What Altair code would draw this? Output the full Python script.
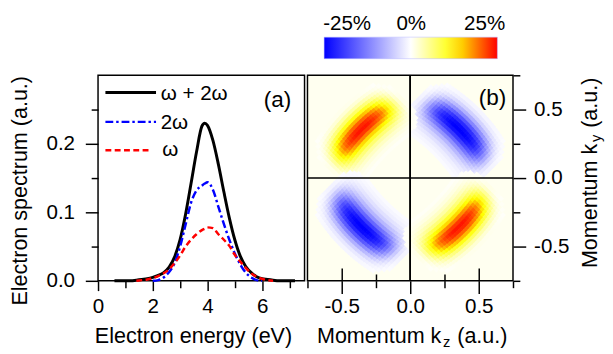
import math
import altair as alt
import pandas as pd

FONT = "Liberation Sans"

# ---------------- Panel (a): electron spectra ----------------
energy_ev = [0.6, 0.8, 1.0, 1.2, 1.4, 1.6, 1.8, 2.0, 2.2, 2.4,
             2.6, 2.8, 3.0, 3.2, 3.4, 3.6, 3.8, 3.9, 4.0,
             4.2, 4.4, 4.6, 4.8, 5.0, 5.2, 5.4, 5.6, 5.8, 6.0,
             6.2, 6.4, 6.6, 6.8, 7.0, 7.2]
spec_w_2w = [0.000, 0.000, 0.000, 0.000, 0.001, 0.002, 0.003, 0.005, 0.008, 0.012,
             0.020, 0.035, 0.060, 0.097, 0.142, 0.188, 0.226, 0.230, 0.227,
             0.205, 0.170, 0.130, 0.092, 0.060, 0.036, 0.021, 0.012, 0.006, 0.003,
             0.002, 0.001, 0.000, 0.000, 0.000, 0.000]
spec_2w = [None, None, None, None, None, None, None, 0.000, 0.001, 0.005,
           0.013, 0.026, 0.050, 0.082, 0.114, 0.132, 0.139, 0.142, 0.144,
           0.133, 0.108, 0.083, 0.060, 0.040, 0.024, 0.012, 0.005, 0.001, 0.000,
           None, None, None, None, None, None]
spec_w = [None, None, None, None, 0.000, 0.001, 0.002, 0.004, 0.007, 0.011,
          0.017, 0.026, 0.037, 0.050, 0.060, 0.068, 0.074, 0.076, 0.078,
          0.077, 0.068, 0.060, 0.051, 0.038, 0.028, 0.019, 0.011, 0.006, 0.003,
          0.001, 0.000, None, None, None, None]

series_names = ["\u03c9 + 2\u03c9", "2\u03c9", "\u03c9"]

# legend swatches (data coordinates of panel a)
legend_y = [0.275, 0.232, 0.1905]
legend_x1 = [0.27, 0.27, 0.27]
legend_x2 = [2.12, 2.12, 1.87]
legend_text_x = [2.29, 2.29, 2.35]
legend_text_y = [0.2634, 0.2214, 0.1824]

# ---------------- Panel (b): momentum map (four lobes) ----------------
# lobe geometry (a.u.): distance of lobe centre from origin, and bend of the lobe axis
lobe_dist = 0.49
lobe_bend = -0.4
# profile along the lobe (|u| cell centres, a.u.) and relative weight
along_abs_u = [0.0125, 0.0375, 0.0625, 0.0875, 0.1125, 0.1375, 0.1625, 0.1875, 0.2125,
               0.2375, 0.2625, 0.2875, 0.3125, 0.3375, 0.3625, 0.3875]
along_weight = [1.00, 1.00, 0.99, 0.97, 0.94, 0.90, 0.85, 0.78, 0.69,
                0.58, 0.46, 0.33, 0.21, 0.11, 0.05, 0.01]
# profile across the lobe (w cell centres, negative = towards origin) and relative weight
across_w = [-0.2375, -0.2125, -0.1875, -0.1625, -0.1375, -0.1125, -0.0875, -0.0625, -0.0375, -0.0125,
            0.0125, 0.0375, 0.0625, 0.0875, 0.1125, 0.1375, 0.1625, 0.1875, 0.2125, 0.2375]
across_weight = [0.02, 0.04, 0.07, 0.12, 0.19, 0.29, 0.43, 0.60, 0.78, 0.93,
                 1.00, 0.96, 0.84, 0.67, 0.48, 0.31, 0.18, 0.09, 0.04, 0.01]
CELL = 0.025
# quadrant diagonal angle (deg) and peak asymmetry (%)
quadrant_angle = [45, 135, 225, 315]
quadrant_peak = [-25, 24, -25, 24]

rows = []
for ang, peak in zip(quadrant_angle, quadrant_peak):
    er = (math.cos(math.radians(ang)), math.sin(math.radians(ang)))
    et = (-er[1], er[0])
    for side in (-1, 1):
        for au, uw in zip(along_abs_u, along_weight):
            u = side * au
            for w, ww in zip(across_w, across_weight):
                v = peak * uw * ww
                if abs(v) < 0.3:
                    continue
                rad = lobe_dist + w + lobe_bend * u * u
                rows.append({"kz": rad * er[0] + u * et[0], "ky": rad * er[1] + u * et[1], "v": v})
heat_df = pd.DataFrame(rows)

color_domain = [-25, 0, 12.5, 25]
color_range = ["#0000ff", "#ffffff", "#ffff00", "#ff0000"]

PA_W, PA_H = 211, 210
PB = 210
cell_px = CELL * PB / 1.5 * 1.2

# ---------------- helpers ----------------
def ax(**kw):
    base = dict(grid=False, domain=False, tickColor="black", tickWidth=1.5,
                labelColor="black", labelFont=FONT, labelFontSize=21, labelFlush=False)
    base.update(kw)
    return alt.Axis(**base)

neg_fmt = "datum.value < 0 ? '-' + format(-datum.value, '.1f') : format(datum.value, '.1f')"

def pix_text(px, py, s, size, align="left", baseline="alphabetic", angle=0):
    mk = dict(align=align, baseline=baseline, fontSize=size, color="black", font=FONT)
    if angle:
        mk["angle"] = angle
    return alt.Chart(pd.DataFrame({"s": [s]})).mark_text(**mk).encode(
        x=alt.value(px), y=alt.value(py), text="s:N")

# ---------------- Panel (a) ----------------
e_scale = alt.Scale(domain=[0, 7.55], nice=False, zero=False)
v_scale = alt.Scale(domain=[0, 0.3], nice=False, zero=False)

def series_df(vals):
    return pd.DataFrame([{"E": e, "v": v} for e, v in zip(energy_ev, vals) if v is not None])

ax_a_x = ax(orient="bottom", values=[0, 2, 4, 6], tickSize=10, labelPadding=5,
            title="Electron energy (eV)", titleFont=FONT, titleFontSize=22, titleFontWeight="normal",
            titleColor="black", titleX=97, titleY=63, titleAlign="center", titleBaseline="alphabetic")
ax_a_x_minor = ax(orient="bottom", values=[1, 3, 5, 7], tickSize=7, labels=False, title=None)
ax_a_y = ax(orient="left", values=[0, 0.1, 0.2], format=".1f", tickSize=13, labelPadding=11,
            title="Electron spectrum (a.u.)", titleFont=FONT, titleFontSize=22, titleFontWeight="normal",
            titleColor="black", titleX=-73, titleY=117.5, titleAngle=270, titleAlign="center",
            titleBaseline="alphabetic")
ax_a_y_minor = ax(orient="left", values=[0.05, 0.15, 0.25], tickSize=7, labels=False, title=None)

line_total = alt.Chart(series_df(spec_w_2w)).mark_line(
    color="black", strokeWidth=3, interpolate="monotone").encode(
    x=alt.X("E:Q", scale=e_scale, axis=ax_a_x),
    y=alt.Y("v:Q", scale=v_scale, axis=ax_a_y))
line_2w = alt.Chart(series_df(spec_2w)).mark_line(
    color="#0000ff", strokeWidth=2.5, strokeDash=[8, 3, 2.5, 3], interpolate="monotone").encode(
    x=alt.X("E:Q", scale=e_scale, axis=ax_a_x_minor),
    y=alt.Y("v:Q", scale=v_scale, axis=ax_a_y_minor))
line_w = alt.Chart(series_df(spec_w)).mark_line(
    color="#ff0000", strokeWidth=2.5, strokeDash=[6, 3.5], interpolate="monotone").encode(
    x=alt.X("E:Q", scale=e_scale, axis=None),
    y=alt.Y("v:Q", scale=v_scale, axis=None))

styles = [dict(color="black", strokeWidth=3),
          dict(color="#0000ff", strokeWidth=2.5, strokeDash=[8, 3, 2.5, 3]),
          dict(color="#ff0000", strokeWidth=2.5, strokeDash=[6, 3.5])]
legend_layers = []
for i in range(3):
    d = pd.DataFrame({"x1": [legend_x1[i]], "x2": [legend_x2[i]], "y": [legend_y[i]],
                      "tx": [legend_text_x[i]], "ty": [legend_text_y[i]], "s": [series_names[i]]})
    legend_layers.append(alt.Chart(d).mark_rule(**styles[i]).encode(
        x=alt.X("x1:Q", scale=e_scale, axis=None), x2="x2:Q",
        y=alt.Y("y:Q", scale=v_scale, axis=None)))
    legend_layers.append(alt.Chart(d).mark_text(
        align="left", baseline="alphabetic", fontSize=21, font=FONT, color="black").encode(
        x=alt.X("tx:Q", scale=e_scale, axis=None),
        y=alt.Y("ty:Q", scale=v_scale, axis=None), text="s:N"))

tag_a = alt.Chart(pd.DataFrame({"x": [6.56], "y": [0.254], "s": ["(a)"]})).mark_text(
    align="center", baseline="alphabetic", fontSize=23, font=FONT, color="black").encode(
    x=alt.X("x:Q", scale=e_scale, axis=None), y=alt.Y("y:Q", scale=v_scale, axis=None), text="s:N")

panel_a = alt.layer(line_total, line_2w, line_w, *legend_layers, tag_a).resolve_axis(
    x="independent", y="independent").properties(width=PA_W, height=PA_H)

# ---------------- Panel (b) ----------------
kz_scale = alt.Scale(domain=[-0.75, 0.75], nice=False, zero=False)
ky_scale = alt.Scale(domain=[-0.75, 0.75], nice=False, zero=False)

ax_b_x = ax(orient="bottom", values=[-0.5, 0, 0.5], labelExpr=neg_fmt, tickSize=13, labelPadding=2, title=None)
ax_b_x_minor = ax(orient="bottom", values=[-0.75, -0.25, 0.25, 0.75], tickSize=7, labels=False, title=None)
ax_b_x_in_major = ax(orient="bottom", values=[-0.5, 0.5], tickSize=13, offset=-13, labels=False, title=None)
ax_b_x_in_minor = ax(orient="bottom", values=[-0.25, 0.25], tickSize=7, offset=-7, labels=False, title=None)
ax_b_y = ax(orient="right", values=[-0.5, 0, 0.5], labelExpr=neg_fmt, tickSize=13, labelPadding=8, title=None)
ax_b_y_minor = ax(orient="right", values=[-0.75, -0.25, 0.25, 0.75], tickSize=7, labels=False, title=None)

heat = alt.Chart(heat_df).mark_square(size=cell_px ** 2, angle=45, opacity=1, strokeWidth=0).encode(
    x=alt.X("kz:Q", scale=kz_scale, axis=None),
    y=alt.Y("ky:Q", scale=ky_scale, axis=None),
    color=alt.Color("v:Q", scale=alt.Scale(domain=color_domain, range=color_range, interpolate="rgb"),
                    legend=alt.Legend(type="gradient", orient="none", legendX=PA_W + 20, legendY=-39,
                                      direction="horizontal",
                                      gradientLength=177, gradientThickness=22, title=None,
                                      labelExpr="''", padding=0, gradientStrokeColor="#b8b8ff",
                                      gradientStrokeWidth=0.5)))

zero_df = pd.DataFrame({"k": [0.0]})
vline = alt.Chart(zero_df).mark_rule(color="black", strokeWidth=1.5).encode(
    x=alt.X("k:Q", scale=kz_scale, axis=ax_b_x))
hline = alt.Chart(zero_df).mark_rule(color="black", strokeWidth=1.5).encode(
    y=alt.Y("k:Q", scale=ky_scale, axis=ax_b_y))
vline_in1 = alt.Chart(zero_df).mark_rule(color="black", strokeWidth=1.5).encode(
    x=alt.X("k:Q", scale=kz_scale, axis=ax_b_x_in_major))
vline_in2 = alt.Chart(zero_df).mark_rule(color="black", strokeWidth=1.5).encode(
    x=alt.X("k:Q", scale=kz_scale, axis=ax_b_x_in_minor))

tag_b = alt.Chart(pd.DataFrame({"x": [0.6], "y": [0.535], "s": ["(b)"]})).mark_text(
    align="center", baseline="alphabetic", fontSize=23, font=FONT, color="black").encode(
    x=alt.X("x:Q", scale=kz_scale, axis=ax_b_x_minor),
    y=alt.Y("y:Q", scale=ky_scale, axis=ax_b_y_minor), text="s:N")

cbar_labels = [pix_text(40.5, -46.3, "-25%", 21, align="center"),
               pix_text(106, -46.3, "0%", 21, align="center"),
               pix_text(181, -46.3, "25%", 21, align="center")]
title_b_x = [pix_text(9.7, 273.7, "Momentum k", 22),
             pix_text(138.5, 277.5, "z", 15),
             pix_text(153, 273.7, "(a.u.)", 22)]
title_b_y = [pix_text(296, 197, "Momentum k", 22, angle=270),
             pix_text(300, 68.2, "y", 15, angle=270),
             pix_text(296, 53.7, "(a.u.)", 22, angle=270)]

panel_b = alt.layer(heat, vline, hline, vline_in1, vline_in2, tag_b,
                    *cbar_labels, *title_b_x, *title_b_y).resolve_axis(
    x="independent", y="independent").properties(
    width=PB, height=PB, view=alt.ViewBackground(fill="#fffff0", stroke="black", strokeWidth=1.5))

chart = alt.hconcat(panel_a, panel_b, spacing=0).configure(
    font=FONT, padding={"left": 0, "top": 0, "right": 0, "bottom": 0}
).configure_view(stroke="black", strokeWidth=1.5)

chart.save("out.html", embed_options={"renderer": "svg", "actions": False})
